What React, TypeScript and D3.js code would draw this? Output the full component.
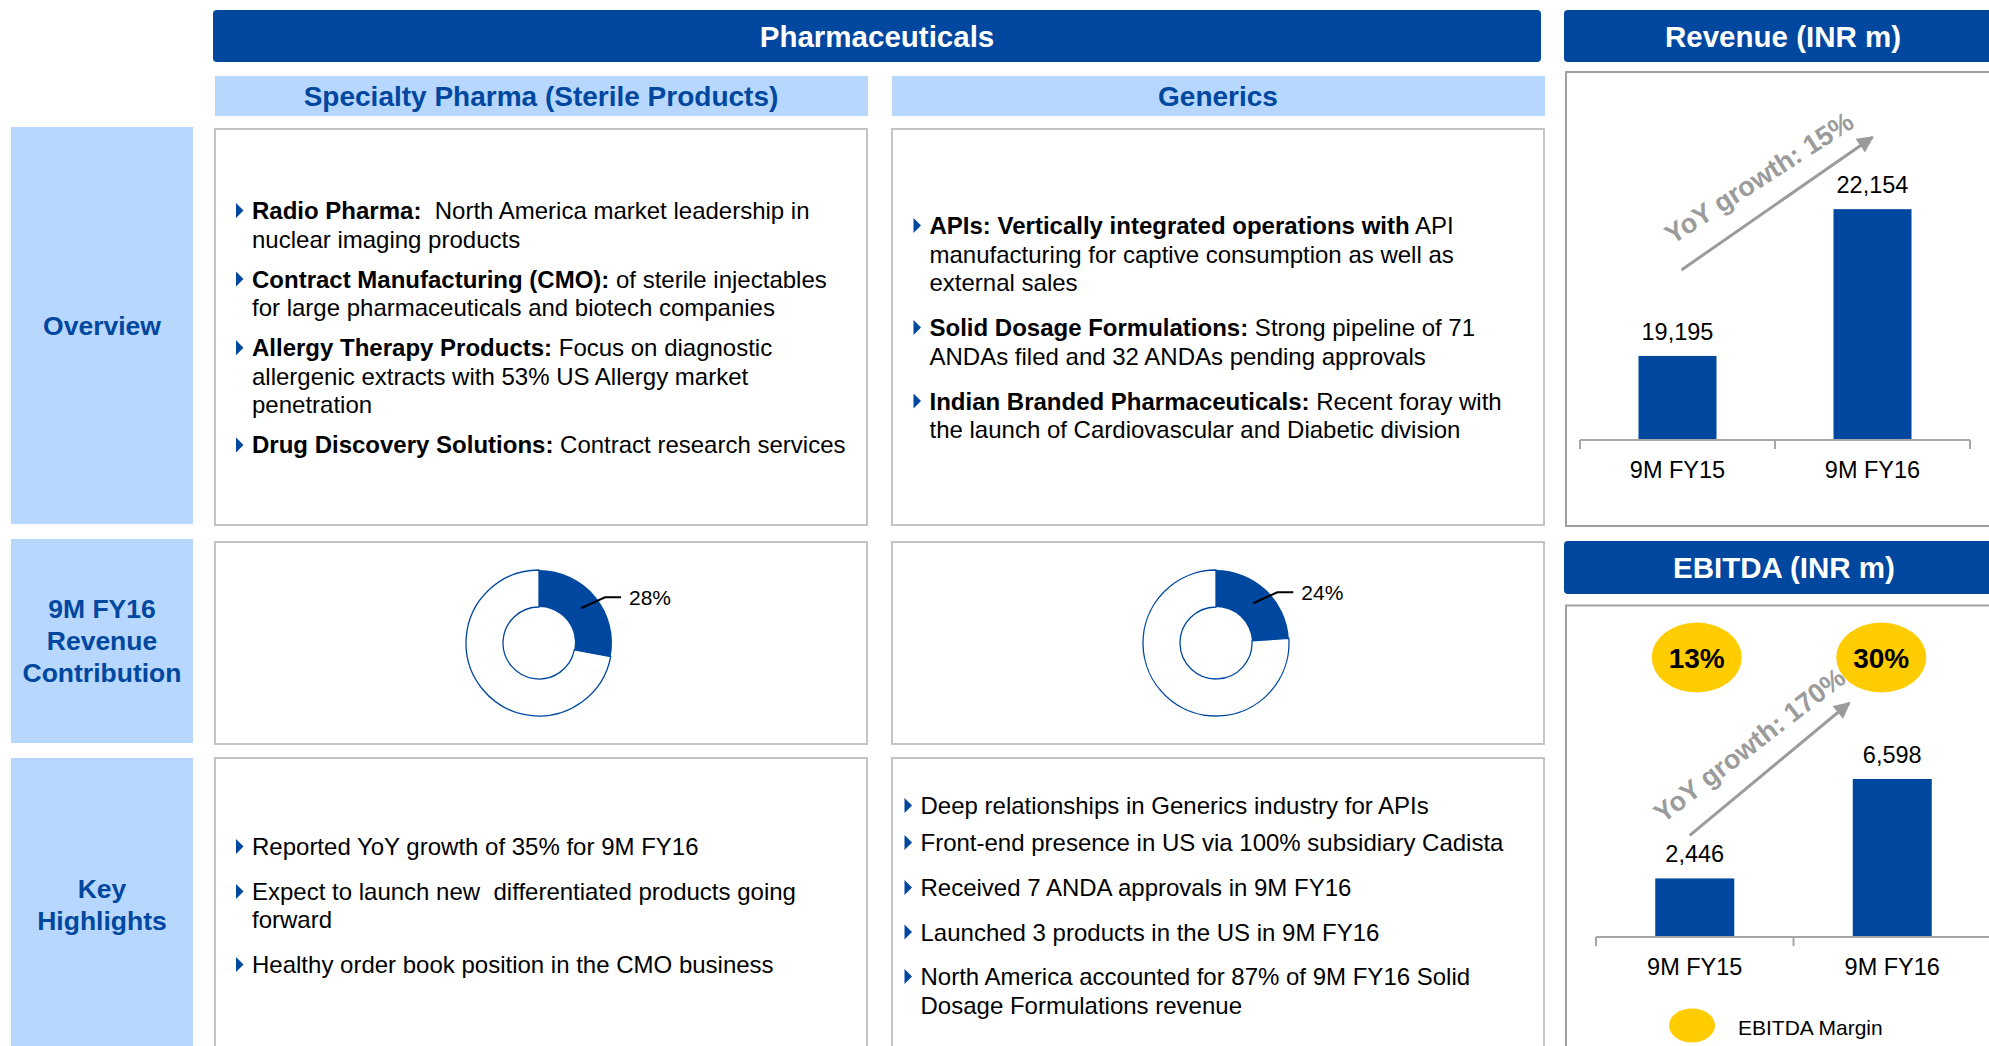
import React from "react";
import * as d3 from "d3";

// ---- data ----
const periods = ["9M FY15", "9M FY16"];
const revenue = [19195, 22154];
const ebitda = [2446, 6598];
const ebitdaMargin = ["13%", "30%"];
const revenueGrowth = "YoY growth: 15%";
const ebitdaGrowth = "YoY growth: 170%";
const segments = ["Specialty Pharma (Sterile Products)", "Generics"];
const contribution = [28, 24];
const rowLabels = [["Overview"], ["9M FY16", "Revenue", "Contribution"], ["Key", "Highlights"]];

// ** marks bold runs
const specialtyOverview = [
  ["**Radio Pharma:**  North America market leadership in", "nuclear imaging products"],
  ["**Contract Manufacturing (CMO):** of sterile injectables", "for large pharmaceuticals and biotech companies"],
  ["**Allergy Therapy Products:** Focus on diagnostic", "allergenic extracts with 53% US Allergy market", "penetration"],
  ["**Drug Discovery Solutions:** Contract research services"],
];
const genericsOverview = [
  ["**APIs: Vertically integrated operations with** API", "manufacturing for captive consumption as well as", "external sales"],
  ["**Solid Dosage Formulations:** Strong pipeline of 71", "ANDAs filed and 32 ANDAs pending approvals"],
  ["**Indian Branded Pharmaceuticals:** Recent foray with", "the launch of Cardiovascular and Diabetic division"],
];
const specialtyHighlights = [
  ["Reported YoY growth of 35% for 9M FY16"],
  ["Expect to launch new  differentiated products going", "forward"],
  ["Healthy order book position in the CMO business"],
];
const genericsHighlights = [
  ["Deep relationships in Generics industry for APIs"],
  ["Front-end presence in US via 100% subsidiary Cadista"],
  ["Received 7 ANDA approvals in 9M FY16"],
  ["Launched 3 products in the US in 9M FY16"],
  ["North America accounted for 87% of 9M FY16 Solid", "Dosage Formulations revenue"],
];

const BLUE = "#0047A0";
const LIGHT = "#B7D7FE";
const YELLOW = "#FFCC00";
const GREY = "#9B9B9B";
const FONT = "'Liberation Sans', Arial, Helvetica, sans-serif";

function runs(line: string) {
  return line.split("**").map((t, i) => (
    <tspan key={i} fontWeight={i % 2 ? "bold" : "normal"}>{t}</tspan>
  ));
}

function Bullets({ paras, x, y0, lineH, gaps }: any) {
  let y = y0;
  const out: any[] = [];
  paras.forEach((p: string[], i: number) => {
    if (i > 0) y += Array.isArray(gaps) ? gaps[i - 1] : gaps;
    p.forEach((line, j) => {
      if (j > 0) y += lineH;
      if (j === 0)
        out.push(
          <path key={`b${i}`} d={`M${x - 16},${y - 16}L${x - 8.5},${y - 8.5}L${x - 16},${y - 1}Z`} fill={BLUE} />
        );
      out.push(
        <text key={`t${i}-${j}`} x={x} y={y} fontSize={24} fill="#000" style={{ whiteSpace: "pre" }}>
          {runs(line)}
        </text>
      );
    });
  });
  return <g>{out}</g>;
}

function Box({ x, y, w, h, stroke = "#C4C4C4" }: any) {
  return <rect x={x} y={y} width={w} height={h} fill="#fff" stroke={stroke} strokeWidth={2} />;
}

function Donut({ cx, cy, value }: any) {
  const pie = d3.pie<number>().sort(null)([value, 100 - value]);
  const arc = d3.arc<d3.PieArcDatum<number>>().innerRadius(36).outerRadius(73);
  const [mx, my] = arc.centroid(pie[0]);
  const ex = mx + 24, ey = my - 11;
  return (
    <g transform={`translate(${cx},${cy})`}>
      <path d={arc(pie[1]) as string} fill="#fff" stroke={BLUE} strokeWidth={1.3} />
      <path d={arc(pie[0]) as string} fill={BLUE} />
      <polyline points={`${mx},${my} ${ex},${ey} ${ex + 16},${ey}`} fill="none" stroke="#000" strokeWidth={2} />
      <text x={ex + 24} y={ey + 7.5} fontSize={21}>{value}%</text>
    </g>
  );
}

function Growth({ x1, y1, x2, y2, label, id }: any) {
  const dx = x2 - x1, dy = y2 - y1;
  const len = Math.hypot(dx, dy);
  const ux = dx / len, uy = dy / len;
  const ang = (Math.atan2(dy, dx) * 180) / Math.PI + 2;
  const tx = (x1 + x2) / 2 + uy * 31, ty = (y1 + y2) / 2 - ux * 31;
  return (
    <g>
      <defs>
        <marker id={id} viewBox="0 0 10 10" refX="9" refY="5" markerWidth="6" markerHeight="5.5" orient="auto">
          <path d="M0,0L10,5L0,10Z" fill={GREY} />
        </marker>
      </defs>
      <line x1={x1} y1={y1} x2={x2} y2={y2} stroke={GREY} strokeWidth={3} markerEnd={`url(#${id})`} />
      <text x={tx} y={ty} transform={`rotate(${ang},${tx},${ty})`} textAnchor="middle" dominantBaseline="central"
        fontSize={27} fontWeight="bold" fill={GREY}>
        {label}
      </text>
    </g>
  );
}

function Bars({ values, xRange, yDomain, yRange }: any) {
  const x = d3.scaleBand().domain(periods).range(xRange).paddingInner(0.6).paddingOuter(0.3);
  const y = d3.scaleLinear().domain(yDomain).range(yRange);
  const bw = x.bandwidth();
  const step = x.step();
  const base = yRange[0];
  const ticks = [xRange[0], ...periods.map((p) => (x(p) as number) + bw / 2 + step / 2)];
  return (
    <g>
      {periods.map((p, i) => (
        <g key={p}>
          <rect x={x(p)} y={y(values[i])} width={bw} height={base - y(values[i])} fill={BLUE} />
          <text x={(x(p) as number) + bw / 2} y={y(values[i]) - 16} textAnchor="middle" fontSize={23.5}>
            {d3.format(",")(values[i])}
          </text>
          <text x={(x(p) as number) + bw / 2} y={base + 38} textAnchor="middle" fontSize={23.5}>{p}</text>
        </g>
      ))}
      <line x1={xRange[0]} x2={xRange[1]} y1={base} y2={base} stroke="#A6A6A6" strokeWidth={2} />
      {ticks.map((t, i) => (
        <line key={i} x1={t} x2={t} y1={base} y2={base + 9} stroke="#A6A6A6" strokeWidth={2} />
      ))}
    </g>
  );
}

export default function App() {
  const W = 1989, H = 1046;
  const colX = [215, 892];
  const colW = 652;
  const revX = d3.scaleBand().domain(periods).range([1580, 1970]).paddingInner(0.6).paddingOuter(0.3);
  const revY = d3.scaleLinear().domain([17500, 25000]).range([440, 68]);
  const ebX = d3.scaleBand().domain(periods).range([1596, 1991]).paddingInner(0.6).paddingOuter(0.3);
  const ebY = d3.scaleLinear().domain([0, 10000]).range([937, 697.5]);
  const rc = (p: string) => (revX(p) as number) + revX.bandwidth() / 2;
  const ec = (p: string) => (ebX(p) as number) + ebX.bandwidth() / 2;

  const labelRows = [
    { y: 127, h: 397 },
    { y: 539, h: 204 },
    { y: 758, h: 300 },
  ];
  const rowMid = [325.5, 641, 905];

  return (
    <svg width={W} height={H} style={{ position: "absolute", left: 0, top: 0, background: "#fff" }} fontFamily={FONT}>
      {/* top headers */}
      <rect x={213} y={10} width={1328} height={52} rx={4} fill={BLUE} />
      <text x={877} y={36} textAnchor="middle" dominantBaseline="central" fill="#fff" fontSize={29.5} fontWeight="bold">
        Pharmaceuticals
      </text>
      <rect x={1564} y={10} width={440} height={52} rx={4} fill={BLUE} />
      <text x={1783} y={36} textAnchor="middle" dominantBaseline="central" fill="#fff" fontSize={29.5} fontWeight="bold">
        Revenue (INR m)
      </text>
      {segments.map((s, i) => (
        <g key={s}>
          <rect x={colX[i]} y={76} width={colW + 1} height={40} fill={LIGHT} />
          <text x={colX[i] + colW / 2} y={96} textAnchor="middle" dominantBaseline="central" fill={BLUE}
            fontSize={28} fontWeight="bold">
            {s}
          </text>
        </g>
      ))}

      {/* row labels */}
      {labelRows.map((r, i) => (
        <g key={i}>
          <rect x={11} y={r.y} width={182} height={r.h} fill={LIGHT} />
          {rowLabels[i].map((t, j) => (
            <text key={t} x={102} y={rowMid[i] + (j - (rowLabels[i].length - 1) / 2) * 32}
              textAnchor="middle" dominantBaseline="central" fill={BLUE} fontSize={26.5} fontWeight="bold">
              {t}
            </text>
          ))}
        </g>
      ))}

      {/* content boxes */}
      {colX.map((cx) => (
        <g key={cx}>
          <Box x={cx} y={129} w={colW} h={396} />
          <Box x={cx} y={542} w={colW} h={202} />
          <Box x={cx} y={758} w={colW} h={310} />
        </g>
      ))}

      <Bullets paras={specialtyOverview} x={252} y0={219} lineH={28.6} gaps={40} />
      <Bullets paras={genericsOverview} x={929.5} y0={234} lineH={28.5} gaps={45} />
      <Bullets paras={specialtyHighlights} x={252} y0={855} lineH={28} gaps={45} />
      <Bullets paras={genericsHighlights} x={920.5} y0={814} lineH={29} gaps={[37, 45, 44.5, 44.5]} />

      {contribution.map((v, i) => (
        <Donut key={i} cx={colX[i] + colW / 2 - 2} cy={643} value={v} />
      ))}

      {/* revenue chart */}
      <Box x={1566} y={72} w={440} h={454} stroke="#A0A0A0" />
      <Bars values={revenue} xRange={[1580, 1970]} yDomain={revY.domain()} yRange={revY.range()} />
      <Growth id="arrRev" label={revenueGrowth}
        x1={rc(periods[0]) + 4} y1={revY(revenue[0]) - 86} x2={rc(periods[1])} y2={revY(revenue[1]) - 72} />

      {/* ebitda chart */}
      <rect x={1564} y={541} width={440} height={53} rx={4} fill={BLUE} />
      <text x={1784} y={567.5} textAnchor="middle" dominantBaseline="central" fill="#fff" fontSize={29.5} fontWeight="bold">
        EBITDA (INR m)
      </text>
      <Box x={1566} y={605.5} w={440} h={460} stroke="#A0A0A0" />
      <Bars values={ebitda} xRange={[1596, 1991]} yDomain={ebY.domain()} yRange={ebY.range()} />
      <Growth id="arrEb" label={ebitdaGrowth}
        x1={ec(periods[0]) - 5} y1={ebY(ebitda[0]) - 43} x2={ec(periods[1]) - 43} y2={ebY(ebitda[1]) - 76} />
      {periods.map((p, i) => (
        <g key={p}>
          <ellipse cx={ec(p) + (i ? -11 : 2)} cy={657.5} rx={45} ry={35} fill={YELLOW} />
          <text x={ec(p) + (i ? -11 : 2)} y={667.5} textAnchor="middle" fontSize={28} fontWeight="bold">
            {ebitdaMargin[i]}
          </text>
        </g>
      ))}
      <ellipse cx={1692} cy={1025.5} rx={23} ry={17} fill={YELLOW} />
      <text x={1738} y={1035} fontSize={21}>EBITDA Margin</text>
    </svg>
  );
}
